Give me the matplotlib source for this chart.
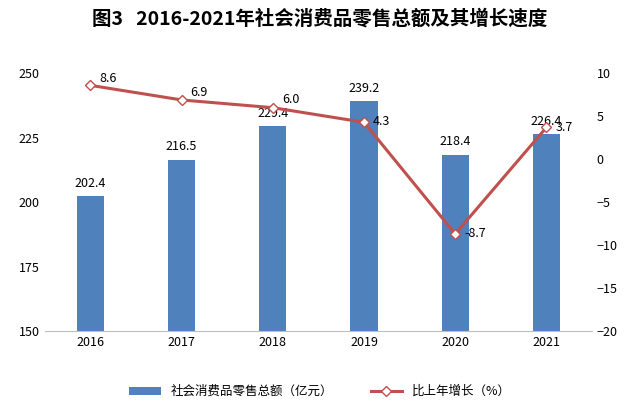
import matplotlib.pyplot as plt
import numpy as np

plt.rcParams['font.family'] = ['Noto Sans CJK SC', 'DejaVu Sans']

years = ['2016', '2017', '2018', '2019', '2020', '2021']
sales = [202.4, 216.5, 229.4, 239.2, 218.4, 226.4]
growth = [8.6, 6.9, 6.0, 4.3, -8.7, 3.7]

fig = plt.figure(figsize=(6.4, 4.19), dpi=100)
ax = fig.add_axes([0.07, 0.21, 0.855, 0.615])
x = np.arange(len(years))
ax.bar(x, sales, width=0.3, color='#4f81bd', label='社会消费品零售总额（亿元）', zorder=2)
ax.set_ylim(150, 250)
ax.set_yticks([150, 175, 200, 225, 250])
ax.set_xticks(x)
ax.set_xticklabels(years)
ax.set_xlim(-0.5, 5.5)
for xi, v in zip(x, sales):
    ax.text(xi, v + 2.5, f'{v:.1f}', ha='center', va='bottom', fontsize=9)

ax2 = ax.twinx()
ax2.plot(x, growth, color='#c0504d', lw=2.2, marker='D', markersize=5,
         markerfacecolor='white', markeredgecolor='#c0504d', label='比上年增长（%）', zorder=3)
ax2.set_ylim(-20, 10)
ax2.set_yticks(range(-20, 11, 5))
dy = [0.8, 0.9, 1.0, 0.1, 0.0, 0.0]
for xi, v, d in zip(x, growth, dy):
    ax2.text(xi + 0.1, v + d, f'{v:.1f}', ha='left', va='center', fontsize=9)

for a in (ax, ax2):
    for s in a.spines.values():
        s.set_visible(False)
    a.tick_params(length=0, labelsize=9)
ax.spines['bottom'].set_visible(True)
ax.spines['bottom'].set_color('#bfbfbf')

fig.text(0.5, 0.955, '图3   2016-2021年社会消费品零售总额及其增长速度', ha='center', va='center',
         fontsize=14, fontweight='bold')
h1, l1 = ax.get_legend_handles_labels()
h2, l2 = ax2.get_legend_handles_labels()
fig.legend(h1 + h2, l1 + l2, loc='center', bbox_to_anchor=(0.5, 0.065), ncol=2,
           frameon=False, fontsize=9, handlelength=2.5, columnspacing=3)
fig.savefig('out.png')
